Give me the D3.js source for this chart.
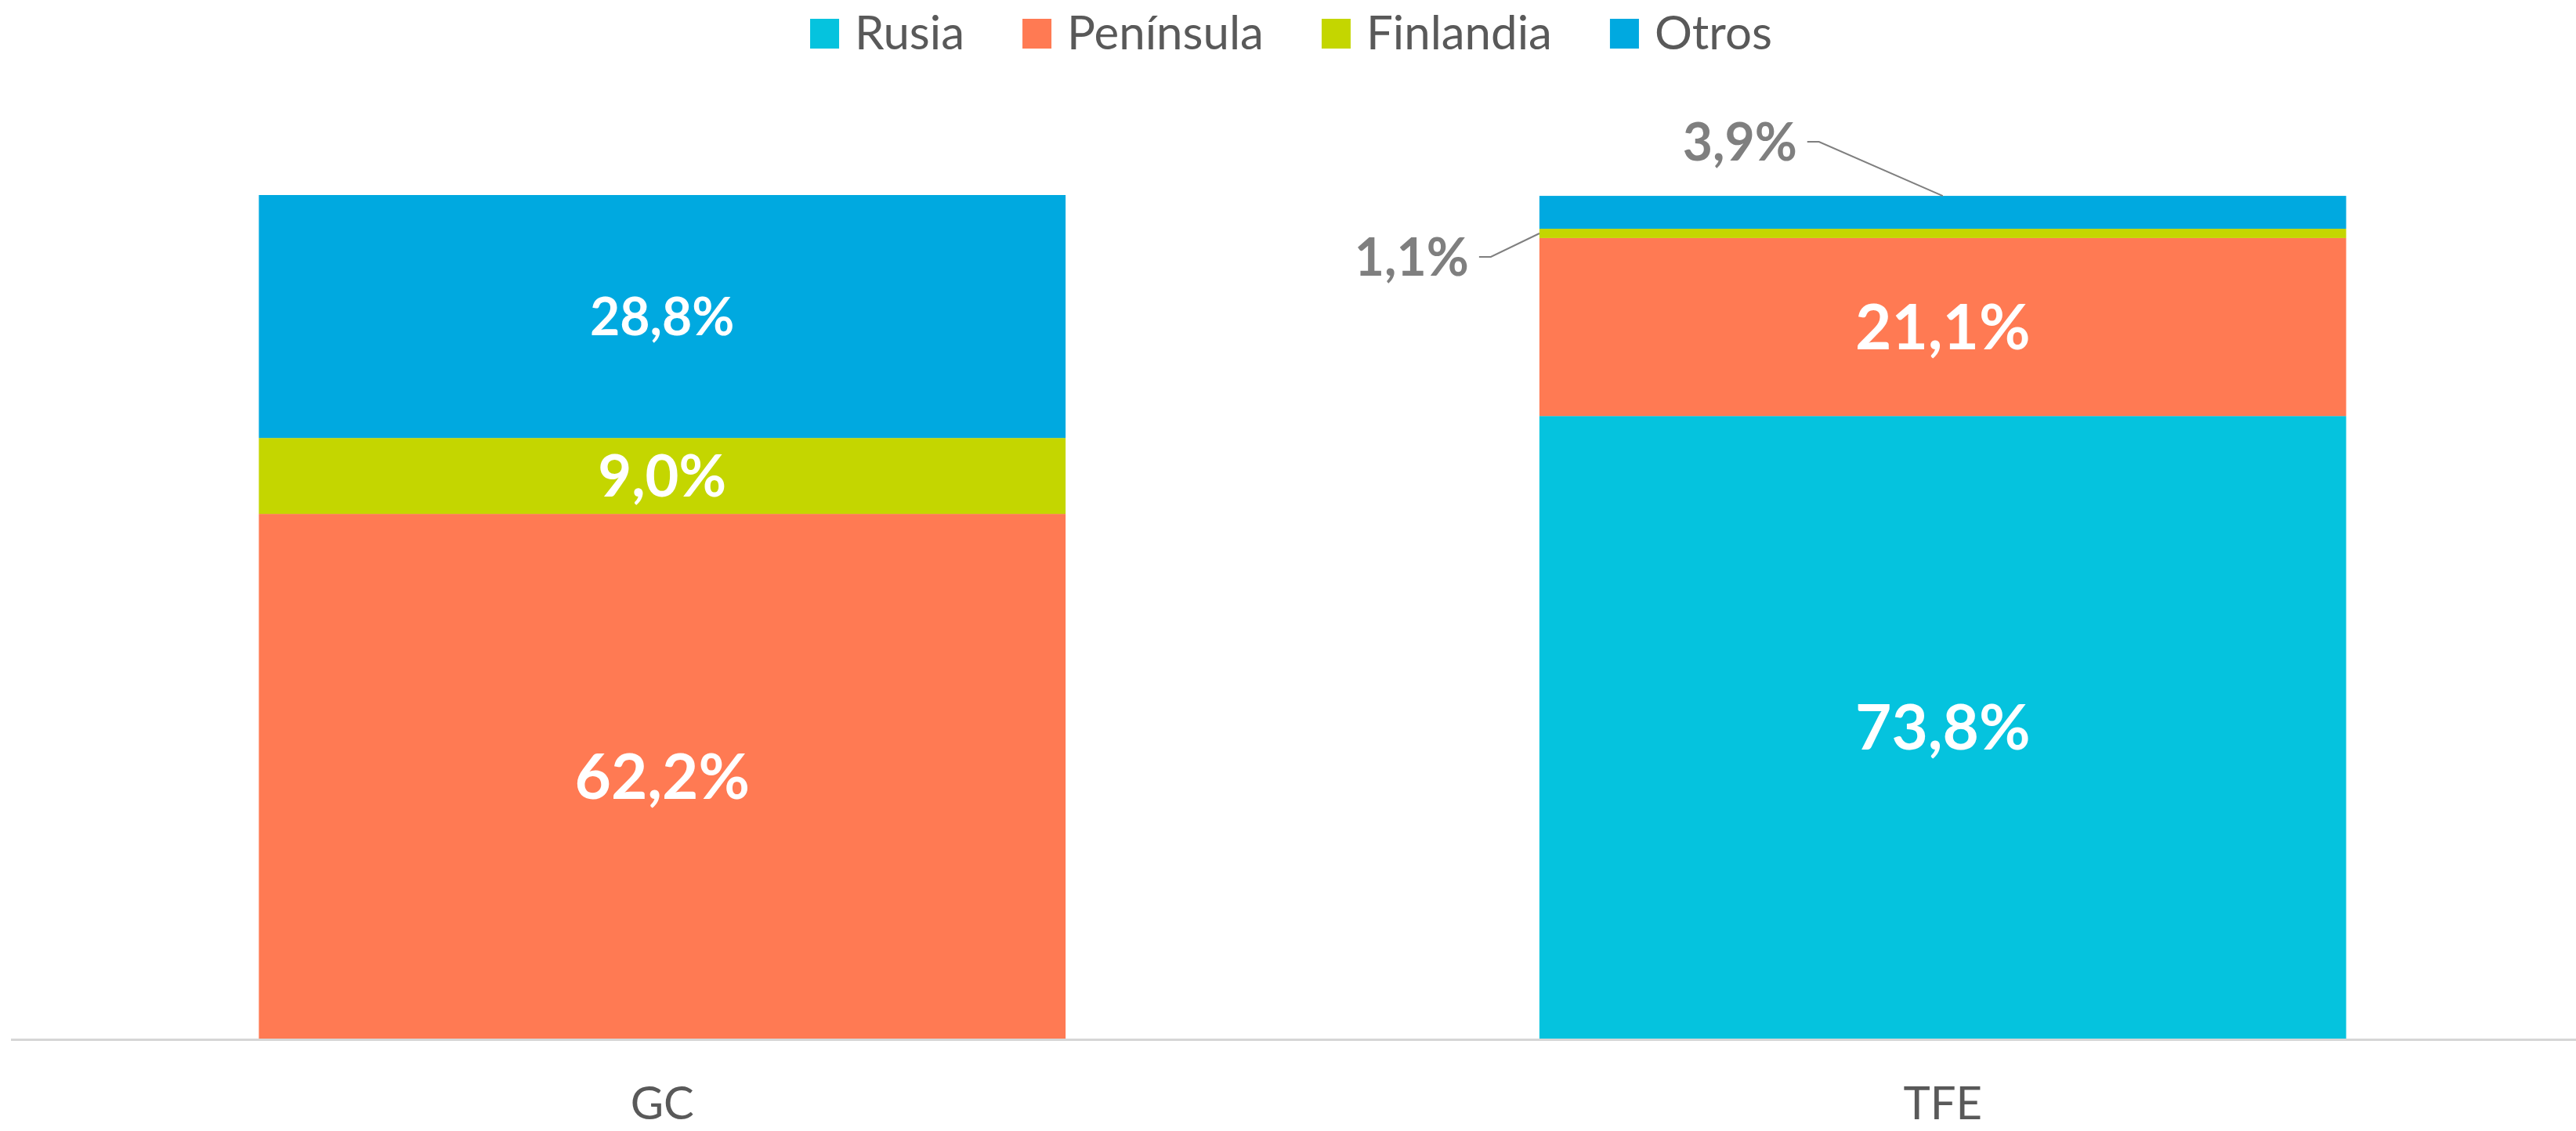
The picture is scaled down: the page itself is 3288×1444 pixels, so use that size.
<!DOCTYPE html>
<html lang="es">
<head>
<meta charset="UTF-8">
<title>Rusia / Península / Finlandia / Otros</title>
<script src="https://d3js.org/d3.v7.min.js"></script>
<style>
    body { margin: 0; background: #fff; }
    svg text { font-family: Lato, "Open Sans", sans-serif; }
    .legend text { fill: #595959; font-size: 60px; }
    .cat-label { fill: #595959; font-size: 58px; text-anchor: middle; }
    .in-label { fill: #fff; font-weight: bold; text-anchor: middle; }
    .out-label { fill: #7f7f7f; font-weight: bold; font-size: 66px; text-anchor: end; }
    .leader { stroke: #7f7f7f; stroke-width: 2; fill: none; }
</style>
</head>
<body>
<svg id="chart"></svg>
<script>
// datos
const categories = ["GC", "TFE"];
const series = ["Rusia", "Península", "Finlandia", "Otros"];
const rusia = [0, 73.8];
const peninsula = [62.2, 21.1];
const finlandia = [9.0, 1.1];
const otros = [28.8, 3.9];
const colors = ["#05c3de", "#ff7a53", "#c4d600", "#00a9e0"];

const W = 3288, H = 1444;
const svg = d3.select("#chart").attr("width", W).attr("height", H);

const rows = categories.map((c, i) => ({
    cat: c,
    "Rusia": rusia[i],
    "Península": peninsula[i],
    "Finlandia": finlandia[i],
    "Otros": otros[i]
}));

const stacked = d3.stack().keys(series)(rows);

const x = d3.scaleBand()
    .domain(categories)
    .range([28, 3297])
    .paddingInner(0.37)
    .paddingOuter(0.185);

const y = d3.scaleLinear().domain([0, 100]).range([1326, 249]);
const color = d3.scaleOrdinal().domain(series).range(colors);
const fmt = v => v.toFixed(1).replace(".", ",") + "%";

// tamaño de etiqueta por serie (en el original no son iguales)
const labelSize = { "Rusia": 80, "Península": 80, "Finlandia": 74, "Otros": 66 };

// barras apiladas
const layers = svg.append("g").selectAll("g")
    .data(stacked)
    .join("g")
    .attr("fill", d => color(d.key));

layers.selectAll("rect")
    .data(d => d.map(p => ({ key: d.key, cat: p.data.cat, y0: p[0], y1: p[1] })))
    .join("rect")
    .attr("x", d => x(d.cat))
    .attr("width", x.bandwidth())
    .attr("y", d => y(d.y1))
    .attr("height", d => y(d.y0) - y(d.y1));

// eje horizontal
svg.append("line")
    .attr("x1", 14).attr("x2", W)
    .attr("y1", y(0) + 1.5).attr("y2", y(0) + 1.5)
    .attr("stroke", "#d6d6d6")
    .attr("stroke-width", 3);

svg.selectAll(".cat-label")
    .data(categories)
    .join("text")
    .attr("class", "cat-label")
    .attr("x", d => x(d) + x.bandwidth() / 2)
    .attr("y", 1429)
    .text(d => d);

// etiquetas de datos
const segs = [];
stacked.forEach((layer, li) => {
    layer.forEach(p => {
        const v = p[1] - p[0];
        if (v > 0) segs.push({ key: layer.key, v: v, cat: p.data.cat, y0: p[0], y1: p[1], top: li === stacked.length - 1 });
    });
});

const inside = segs.filter(d => d.v >= 5);
const outside = segs.filter(d => d.v < 5);

svg.selectAll(".in-label")
    .data(inside)
    .join("text")
    .attr("class", "in-label")
    .attr("x", d => x(d.cat) + x.bandwidth() / 2)
    .attr("y", d => y((d.y0 + d.y1) / 2))
    .attr("dy", "0.36em")
    .style("font-size", d => labelSize[d.key] + "px")
    .text(d => fmt(d.v));

// etiquetas fuera con linea guia
outside.forEach(d => {
    const cx = x(d.cat) + x.bandwidth() / 2;
    const left = x(d.cat);
    let tx, ty, target;
    if (d.top) {
        target = [cx, y(d.y1)];
        tx = cx - 186; ty = y(d.y1) - 69;
    } else {
        const ym = y((d.y0 + d.y1) / 2);
        target = [left, ym];
        tx = left - 90; ty = ym + 30;
    }
    svg.append("text")
        .attr("class", "out-label")
        .attr("x", tx)
        .attr("y", ty)
        .attr("dy", "0.36em")
        .text(fmt(d.v));
    svg.append("path")
        .attr("class", "leader")
        .attr("d", d3.line()([[tx + 13, ty], [tx + 28, ty], target]));
});

// leyenda
const legend = svg.append("g").attr("class", "legend");
let lx = 0;
series.forEach((s, i) => {
    const g = legend.append("g").attr("transform", "translate(" + lx + ",0)");
    g.append("rect")
        .attr("x", 0).attr("y", 24)
        .attr("width", 37).attr("height", 38)
        .attr("fill", color(s));
    const t = g.append("text")
        .attr("x", 57).attr("y", 63)
        .text(s);
    lx += 57 + t.node().getComputedTextLength() + 74;
});
const lw = lx - 74;
legend.attr("transform", "translate(" + (1648 - lw / 2) + ",0)");
</script>
</body>
</html>
